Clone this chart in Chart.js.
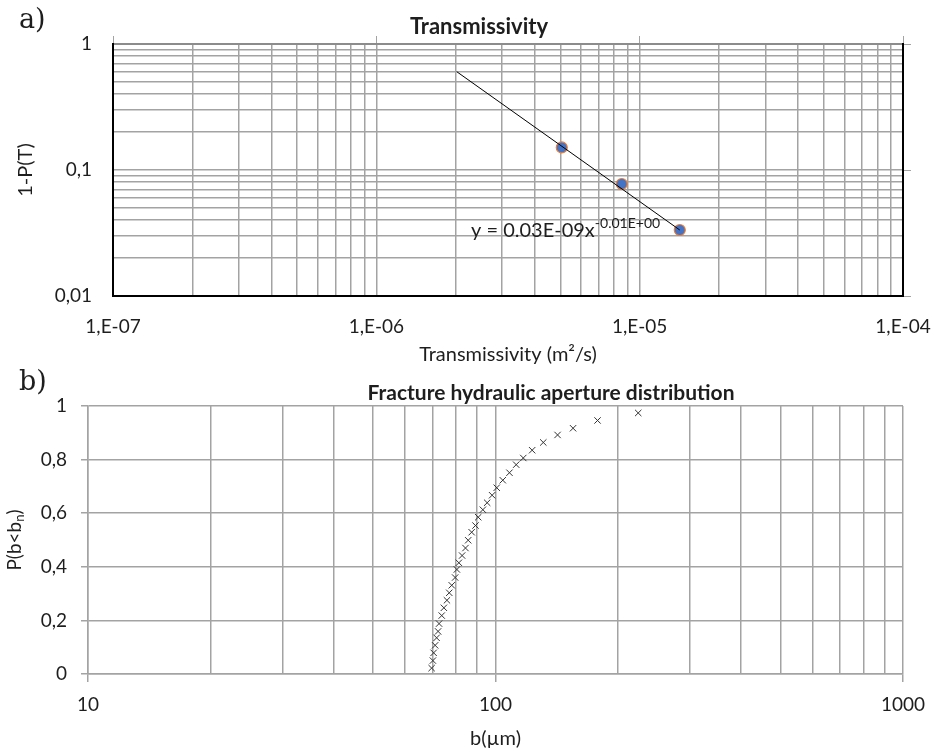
<!DOCTYPE html>
<html>
<head>
<meta charset="utf-8">
<title>Transmissivity and fracture aperture</title>
<script src="https://cdn.jsdelivr.net/npm/chart.js@4.4.1/dist/chart.umd.min.js"></script>
<style>
  html, body { margin: 0; padding: 0; background: #fff; }
  body { width: 936px; height: 751px; position: relative; overflow: hidden; }
  canvas { position: absolute; left: 0; }
  #transChart { top: 0; }
  #apertureChart { top: 360px; }
</style>
</head>
<body>
<canvas id="transChart" width="936" height="380"></canvas>
<canvas id="apertureChart" width="936" height="391"></canvas>
<script>
// a) exceedance probability of transmissivity
const transValues = [5.06e-6, 8.55e-6, 1.42e-5];
const exceedance = [0.151, 0.0774, 0.0334];
// power-law trend line end points (backward forecast to 2e-6)
const trendT = [2.02e-6, 1.42e-5];
const trendP = [0.603, 0.0334];

// b) cumulative distribution of hydraulic aperture (µm)
const aperture = [69.7, 70.2, 70.5, 71.1, 71.7, 72.3, 72.7, 73.8, 74.7, 76.0,
  77.0, 78.1, 79.6, 80.4, 81.3, 82.8, 84.4, 85.7, 87.4, 89.3,
  90.7, 93.1, 95.4, 98.1, 100.7, 104.2, 108.2, 112.4, 117, 123,
  131, 142, 155, 178, 224];
const cumProb = [0.022, 0.050, 0.079, 0.107, 0.135, 0.159, 0.188, 0.218, 0.247, 0.275,
  0.303, 0.331, 0.360, 0.390, 0.415, 0.442, 0.470, 0.499, 0.529, 0.554,
  0.585, 0.613, 0.639, 0.667, 0.695, 0.723, 0.751, 0.781, 0.806, 0.835,
  0.864, 0.892, 0.917, 0.946, 0.974];

const FONT = 'Lato, "Open Sans", sans-serif';
const TEXT = '#1e1e1e';
const GRID = '#a3a3a3';
Chart.defaults.font.family = FONT;
Chart.defaults.color = TEXT;

const isMajor = v => Math.abs(Math.log10(v) - Math.round(Math.log10(v))) < 1e-6;

// 1..9 x 10^n ticks between lo and hi
function logTicks(lo, hi) {
  const out = [];
  for (let e = Math.floor(Math.log10(lo)); e <= Math.ceil(Math.log10(hi)); e++) {
    for (let m = 1; m <= 9; m++) {
      const v = Number((m * Math.pow(10, e)).toPrecision(12));
      if (v >= lo * 0.999999 && v <= hi * 1.000001) out.push({ value: v });
    }
  }
  return out;
}

// fixed scale thickness, no extra room for overhanging labels
const fixSize = (w, h) => s => {
  if (w != null) s.width = w;
  if (h != null) s.height = h;
  s.paddingLeft = s.paddingRight = s.paddingTop = s.paddingBottom = 0;
};

// free text, optionally rotated, with sub/superscript parts
const textLayer = {
  id: 'textLayer',
  afterDraw(chart, args, opts) {
    const ctx = chart.ctx;
    for (const item of opts.items || []) {
      ctx.save();
      ctx.translate(item.x, item.y);
      if (item.rotate) ctx.rotate(item.rotate);
      ctx.fillStyle = item.color || TEXT;
      ctx.textBaseline = 'middle';
      ctx.textAlign = 'left';
      const fontOf = p => (p.bold ? 'bold ' : '') + p.size + 'px ' + (p.family || FONT);
      let total = 0;
      for (const p of item.parts) { ctx.font = fontOf(p); total += ctx.measureText(p.text).width; }
      let x = item.align === 'center' ? -total / 2 : 0;
      for (const p of item.parts) {
        ctx.font = fontOf(p);
        ctx.fillText(p.text, x, p.dy || 0);
        x += ctx.measureText(p.text).width;
      }
      ctx.restore();
    }
  }
};

const tickFont = { size: 19 };
const titleFont = { size: 20 };

new Chart(document.getElementById('transChart'), {
  type: 'scatter',
  data: {
    datasets: [
      {
        label: 'trend',
        data: trendT.map((x, i) => ({ x, y: trendP[i] })),
        showLine: true,
        borderColor: '#000',
        borderWidth: 1,
        pointRadius: 0,
        order: 0
      },
      {
        label: 'T',
        data: transValues.map((x, i) => ({ x, y: exceedance[i] })),
        pointRadius: 5.5,
        backgroundColor: '#4472c4',
        borderColor: '#ed7d31',
        borderWidth: 1.2,
        order: 1
      }
    ]
  },
  options: {
    responsive: false,
    animation: false,
    events: [],
    layout: { autoPadding: false, padding: { top: 36, right: 25, left: 0, bottom: 0 } },
    plugins: {
      legend: { display: false },
      tooltip: { enabled: false },
      textLayer: {
        items: [
          { x: 19, y: 21, parts: [{ text: 'a)', size: 27, family: '"DejaVu Serif", serif' }] },
          { x: 479, y: 27, align: 'center', parts: [{ text: 'Transmissivity', size: 22, bold: true }] },
          { x: 471, y: 231, parts: [
            { text: 'y = 0.03E-09x', size: 20 },
            { text: '-0.01E+00', size: 14, dy: -8 }
          ] }
        ]
      }
    },
    scales: {
      x: {
        type: 'logarithmic', position: 'bottom', min: 1e-7, max: 1e-4,
        afterFit: fixSize(null, 84),
        afterBuildTicks: s => { s.ticks = logTicks(1e-7, 1e-4); },
        grid: { color: GRID, lineWidth: 1.5, drawTicks: false, z: -1 },
        border: { color: '#000', width: 2 },
        ticks: {
          font: tickFont, padding: 19, autoSkip: false, maxRotation: 0,
          callback: v => isMajor(v) ? '1,E-' + String(-Math.round(Math.log10(v))).padStart(2, '0') : ''
        },
        title: { display: true, text: 'Transmissivity (m²/s)', font: titleFont, padding: { bottom: 13 } }
      },
      x2: {
        type: 'logarithmic', position: 'top', min: 1e-7, max: 1e-4,
        afterFit: fixSize(null, 8),
        afterBuildTicks: s => { s.ticks = logTicks(1e-7, 1e-4); },
        grid: {
          drawOnChartArea: false, tickLength: 8, z: -1,
          tickColor: c => isMajor(c.tick.value) ? GRID : 'rgba(0,0,0,0)'
        },
        border: { color: '#8c8c8c', width: 2 },
        ticks: { display: false }
      },
      y: {
        type: 'logarithmic', position: 'left', min: 0.01, max: 1,
        afterFit: fixSize(113, null),
        afterBuildTicks: s => { s.ticks = logTicks(0.01, 1); },
        grid: { color: GRID, lineWidth: 1.5, drawTicks: false, z: -1 },
        border: { color: '#000', width: 2 },
        ticks: {
          font: tickFont, padding: 21, autoSkip: false,
          callback: v => {
            if (!isMajor(v)) return '';
            const e = Math.round(Math.log10(v));
            return e >= 0 ? '1' : '0,' + '0'.repeat(-e - 1) + '1';
          }
        },
        title: { display: true, text: '1-P(T)', font: titleFont, padding: { top: 14 } }
      },
      y2: {
        type: 'logarithmic', position: 'right', min: 0.01, max: 1,
        afterFit: fixSize(8, null),
        afterBuildTicks: s => { s.ticks = logTicks(0.01, 1); },
        grid: {
          drawOnChartArea: false, tickLength: 8, z: -1,
          tickColor: c => isMajor(c.tick.value) ? GRID : 'rgba(0,0,0,0)'
        },
        border: { color: '#000', width: 2 },
        ticks: { display: false }
      }
    }
  },
  plugins: [textLayer]
});

new Chart(document.getElementById('apertureChart'), {
  type: 'scatter',
  data: {
    datasets: [{
      label: 'aperture',
      data: aperture.map((x, i) => ({ x, y: cumProb[i] })),
      pointStyle: 'crossRot',
      pointRadius: 4.5,
      borderColor: '#333',
      borderWidth: 1
    }]
  },
  options: {
    responsive: false,
    animation: false,
    events: [],
    layout: { autoPadding: false, padding: { top: 46, right: 33, left: 0, bottom: 0 } },
    plugins: {
      legend: { display: false },
      tooltip: { enabled: false },
      textLayer: {
        items: [
          { x: 19, y: 23, parts: [{ text: 'b)', size: 27, family: '"DejaVu Serif", serif' }] },
          { x: 551, y: 33, align: 'center', parts: [{ text: 'Fracture hydraulic aperture distribution', size: 21, bold: true }] },
          { x: 15, y: 180, rotate: -Math.PI / 2, align: 'center', parts: [
            { text: 'P(b<b', size: 19 },
            { text: 'n', size: 13, dy: 5 },
            { text: ')', size: 19 }
          ] }
        ]
      }
    },
    scales: {
      x: {
        type: 'logarithmic', min: 10, max: 1000,
        afterFit: fixSize(null, 77),
        afterBuildTicks: s => { s.ticks = logTicks(10, 1000); },
        grid: {
          color: GRID, lineWidth: 1.5, tickLength: 8, z: -1,
          tickColor: c => isMajor(c.tick.value) ? GRID : 'rgba(0,0,0,0)'
        },
        border: { color: GRID, width: 1.5 },
        ticks: {
          font: tickFont, padding: 11, autoSkip: false, maxRotation: 0,
          callback: v => isMajor(v) ? String(Math.round(v)) : ''
        },
        title: { display: true, text: 'b(µm)', font: titleFont, padding: { bottom: 0 } }
      },
      y: {
        min: 0, max: 1,
        afterFit: fixSize(88, null),
        grid: { color: GRID, lineWidth: 1.5, tickLength: 7, z: -1 },
        border: { color: GRID, width: 1.5 },
        ticks: {
          font: tickFont, padding: 14, stepSize: 0.2,
          callback: v => String(Math.round(v * 10) / 10).replace('.', ',')
        }
      }
    }
  },
  plugins: [textLayer]
});
</script>
</body>
</html>
